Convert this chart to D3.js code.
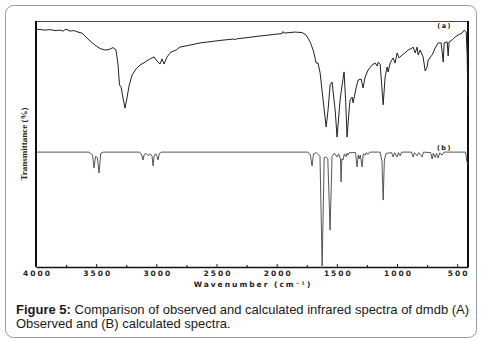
<!DOCTYPE html>
<html><head><meta charset="utf-8">
<script src="https://cdn.jsdelivr.net/npm/d3@7/dist/d3.min.js"></script>
<style>
html,body{margin:0;padding:0;background:#fff;}
svg{display:block;}
</style></head>
<body>
<svg id="chart" width="481" height="341"></svg>
<script>
// ---- Data (wavenumber cm^-1, transmittance in arbitrary %) ----
const tickValues = [4000, 3500, 3000, 2500, 2000, 1500, 1000, 500];
const minorTicks = [3750, 3250, 2750, 2250, 1750, 1250, 750];
const seriesLabels = ["(a)", "(b)"];

// Observed spectrum (a)
const observedWn = [4000,3925,3884,3842,3800,3776,3751,3717,3684,3651,3618,3584,3551,3510,3468,3426,3393,3360,3335,3318,3306,3293,3277,3260,3244,3227,3202,3169,3135,3094,3052,3019,2994,2969,2953,2936,2911,2878,2836,2803,2720,2637,2470,2354,2346,2337,2138,1955,1947,1938,1847,1789,1755,1722,1697,1681,1672,1656,1639,1614,1589,1573,1556,1540,1514,1498,1473,1456,1440,1427,1415,1398,1390,1373,1365,1340,1323,1298,1282,1265,1240,1207,1182,1165,1157,1140,1132,1115,1099,1082,1074,1057,1032,1016,999,983,957,933,908,874,866,849,833,824,808,783,766,750,741,708,683,658,633,616,608,583,575,567,542,517,492,459,442,425,417,412];
const observedT = [96.7,96.3,96.5,96.1,96.3,95.9,96.7,95.9,96.1,95.5,95.1,93.5,91.9,90.2,88.8,88.2,88.4,89.2,88.2,82.1,74.0,73.2,68.7,64.6,68.7,73.6,78.0,80.5,82.1,83.3,84.6,85.4,83.7,82.5,84.6,82.5,85.4,87.4,88.2,89.4,90.2,91.1,92.1,92.7,92.3,92.7,93.9,94.9,95.7,95.1,95.5,95.3,94.3,91.5,88.2,85.0,82.9,82.9,78.9,67.9,56.9,63.8,74.0,75.2,63.8,52.8,67.9,74.0,79.3,67.9,52.8,63.8,67.9,69.1,66.7,72.8,76.0,76.4,72.8,77.2,80.1,82.1,82.9,81.7,83.3,82.5,77.2,65.9,77.2,81.3,79.3,82.9,85.0,82.9,87.0,85.0,86.2,87.0,88.2,89.0,89.4,87.0,89.4,86.2,88.2,85.4,79.7,81.3,84.1,86.2,89.0,91.1,91.1,83.3,91.1,91.5,85.8,91.5,92.3,93.5,94.3,95.1,96.3,95.5,86.2,70.0];

// Calculated spectrum (b)
const calcWn = [4000,3560,3530,3518,3505,3490,3476,3462,3440,3140,3120,3111,3100,3085,3069,3050,3035,3027,3018,3002,2994,2986,2975,2955,1740,1720,1706,1694,1670,1640,1622,1605,1589,1575,1556,1540,1520,1498,1485,1470,1465,1458,1448,1438,1423,1415,1407,1395,1345,1332,1322,1315,1305,1290,1280,1265,1255,1240,1228,1140,1125,1115,1105,1090,1045,1032,1020,999,988,974,962,880,866,855,833,820,791,780,720,708,698,683,672,658,645,625,610,430,420,412];
const calcT = [46.7,46.7,45.5,40.2,45.0,44.5,38.2,46.2,46.7,46.7,45.5,43.5,45.8,46.2,45.3,46.0,45.0,41.1,45.5,46.0,45.0,43.5,46.2,46.7,46.7,45.5,41.1,46.0,46.5,45.0,0.4,44.5,44.7,44.0,15.0,45.0,46.2,44.7,46.0,44.0,34.6,44.0,43.5,46.0,44.8,46.3,45.5,46.5,46.5,40.7,45.5,44.0,45.5,40.7,46.0,45.5,46.5,45.8,46.7,46.7,43.0,27.2,43.5,46.2,46.5,44.7,46.5,44.7,46.5,45.2,46.7,46.7,44.7,46.5,45.2,46.5,44.7,46.7,46.5,43.9,46.3,44.5,46.2,44.3,46.4,45.5,46.7,46.7,43.0,42.0];

const xTitle = "Wavenumber (cm\u207B\u00B9)";
const yTitle = "Transmittance (%)";
const captionBold = "Figure 5:";
const captionLine1 = " Comparison of observed and calculated infrared spectra of dmdb (A)";
const captionLine2 = "Observed and (B) calculated spectra.";

// ---- Drawing ----
const svg = d3.select("#chart");
const plot = {left: 36, right: 468, top: 21, bottom: 267};

// outer rounded panel
svg.append("rect").attr("x", 5.5).attr("y", 5.5).attr("width", 471).attr("height", 332)
  .attr("rx", 8).attr("fill", "#fff").attr("stroke", "#9a9a9a").attr("stroke-width", 1);

const x = d3.scaleLinear().domain([4000, 410]).range([plot.left, plot.right]);
const y = d3.scaleLinear().domain([0, 100]).range([plot.bottom, plot.top]);

// frame
svg.append("line").attr("x1", plot.left).attr("x2", plot.right).attr("y1", plot.top + 0.5).attr("y2", plot.top + 0.5)
  .attr("stroke", "#444").attr("stroke-width", 1);
svg.append("line").attr("x1", plot.left).attr("x2", plot.left).attr("y1", plot.top).attr("y2", plot.bottom)
  .attr("stroke", "#111").attr("stroke-width", 2);
svg.append("line").attr("x1", plot.right).attr("x2", plot.right).attr("y1", plot.top).attr("y2", plot.bottom)
  .attr("stroke", "#111").attr("stroke-width", 2);

const line = d3.line().x(d => x(d[0])).y(d => y(d[1]));

svg.append("path").datum(calcWn.map((w, i) => [w, calcT[i]]))
  .attr("d", line).attr("fill", "none").attr("stroke", "#444").attr("stroke-width", 0.9);
svg.append("path").datum(observedWn.map((w, i) => [w, observedT[i]]))
  .attr("d", line).attr("fill", "none").attr("stroke", "#222").attr("stroke-width", 1);

// x axis
const axisFont = "'DejaVu Sans', Verdana, sans-serif";
const gx = svg.append("g").attr("transform", `translate(0,${plot.bottom})`)
  .call(d3.axisBottom(x).tickValues(tickValues).tickSizeInner(-3).tickSizeOuter(0)
    .tickPadding(4).tickFormat(d3.format("d")));
gx.select(".domain").attr("stroke", "#111").attr("stroke-width", 1.5);
gx.selectAll(".tick line").attr("stroke", "#222");
gx.selectAll(".tick text").attr("font-family", axisFont).attr("font-weight", "bold")
  .attr("font-size", "7.5px").attr("letter-spacing", "2px").attr("dx", "1px").attr("fill", "#222");
const gm = svg.append("g").attr("transform", `translate(0,${plot.bottom})`)
  .call(d3.axisBottom(x).tickValues(minorTicks).tickSizeInner(-2).tickSizeOuter(0).tickFormat(""));
gm.select(".domain").remove();
gm.selectAll(".tick line").attr("stroke", "#222").attr("stroke-width", 1.2);

svg.append("text").attr("x", (plot.left + plot.right) / 2 + 1).attr("y", 287)
  .attr("text-anchor", "middle").attr("font-family", axisFont).attr("font-weight", "bold")
  .attr("font-size", "7.5px").attr("letter-spacing", "2px").attr("fill", "#222").text(xTitle);

svg.append("text").attr("transform", `translate(27,${(plot.top + plot.bottom) / 2}) rotate(-90)`)
  .attr("text-anchor", "middle").attr("font-family", "'Liberation Serif', 'DejaVu Serif', serif")
  .attr("font-weight", "bold").attr("font-size", "9px").attr("fill", "#222").text(yTitle);

// series labels
const labelPos = [[452, 28], [452, 150]];
seriesLabels.forEach((t, i) => {
  svg.append("text").attr("x", labelPos[i][0]).attr("y", labelPos[i][1]).attr("text-anchor", "end")
    .attr("font-family", axisFont).attr("font-weight", "bold").attr("font-size", "6.5px")
    .attr("letter-spacing", "1.5px").attr("fill", "#222").text(t);
});

// caption
const cap = svg.append("g").attr("font-family", "'Liberation Sans', Arial, sans-serif")
  .attr("font-size", "13px").attr("fill", "#1a1a1a");
const t1 = cap.append("text").attr("x", 16).attr("y", 314);
t1.append("tspan").attr("font-weight", "bold").text(captionBold);
t1.append("tspan").text(captionLine1);
cap.append("text").attr("x", 16).attr("y", 328).text(captionLine2);
</script>
</body></html>
